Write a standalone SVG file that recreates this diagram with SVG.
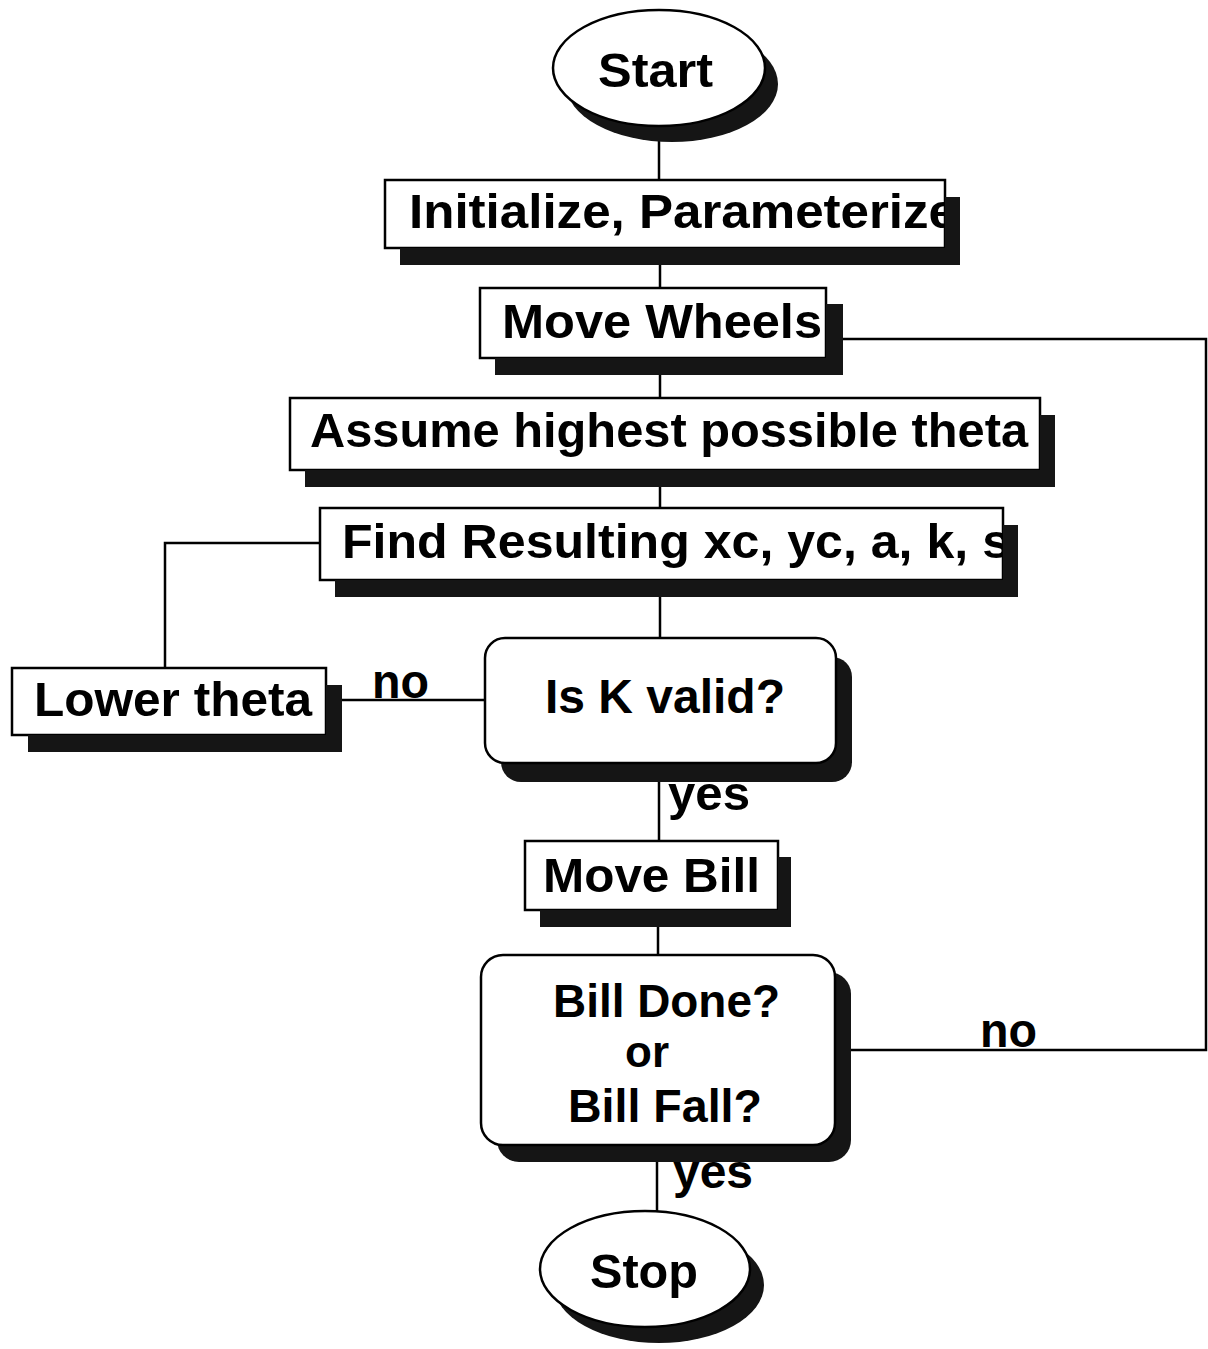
<svg xmlns="http://www.w3.org/2000/svg" width="1208" height="1349" viewBox="0 0 1208 1349">
<style>
.t{font-family:"Liberation Sans",Arial,Helvetica,sans-serif;font-weight:bold;font-size:48px;fill:#000}
.s{font-size:46px}
.box{fill:#fff;stroke:#000;stroke-width:2.5}
.sh{fill:#151515;stroke:none}
.c{fill:none;stroke:#000;stroke-width:2.5}
</style>
<rect width="1208" height="1349" fill="#fff"/>
<g id="connectors">
<path class="c" d="M659 126 V180"/>
<path class="c" d="M660 248 V288"/>
<path class="c" d="M660 358 V398"/>
<path class="c" d="M660 470 V508"/>
<path class="c" d="M660 580 V638"/>
<path class="c" d="M659 763 V841"/>
<path class="c" d="M658 910 V955"/>
<path class="c" d="M657 1145 V1212"/>
<path class="c" d="M320 543 H165 V668"/>
<path class="c" d="M326 700 H484"/>
<path class="c" d="M826 339 H1206 V1050 H835"/>
<text class="t" x="372" y="698" textLength="57" lengthAdjust="spacingAndGlyphs">no</text>
<text class="t" x="668" y="810" textLength="82" lengthAdjust="spacingAndGlyphs">yes</text>
<text class="t" x="980" y="1047" textLength="57" lengthAdjust="spacingAndGlyphs">no</text>
<text class="t" x="673" y="1188" textLength="80" lengthAdjust="spacingAndGlyphs">yes</text>
</g>
<g id="start">
<ellipse class="sh" cx="672" cy="84" rx="106" ry="58"/>
<ellipse class="box" cx="659" cy="68" rx="106" ry="58"/>
<text class="t" x="598" y="87" textLength="115" lengthAdjust="spacingAndGlyphs">Start</text>
</g>
<g id="init">
<rect class="box" x="385" y="180" width="560" height="68"/>
<text class="t" x="409" y="228" textLength="548" lengthAdjust="spacingAndGlyphs">Initialize,  Parameterize</text>
<polygon class="sh" points="945,197 960,197 960,265 400,265 400,248 945,248"/>
</g>
<g id="movewheels">
<rect class="box" x="480" y="288" width="346" height="70"/>
<text class="t" x="502" y="338" textLength="320" lengthAdjust="spacingAndGlyphs">Move  Wheels</text>
<polygon class="sh" points="826,304 843,304 843,375 495,375 495,358 826,358"/>
</g>
<g id="assume">
<rect class="box" x="290" y="398" width="750" height="72"/>
<text class="t" x="310" y="447" textLength="718" lengthAdjust="spacingAndGlyphs">Assume highest possible theta</text>
<polygon class="sh" points="1040,415 1055,415 1055,487 305,487 305,470 1040,470"/>
</g>
<g id="find">
<rect class="box" x="320" y="508" width="683" height="72"/>
<text class="t" x="342" y="558" textLength="668" lengthAdjust="spacingAndGlyphs">Find Resulting xc, yc, a, k, s</text>
<polygon class="sh" points="1003,525 1018,525 1018,597 335,597 335,580 1003,580"/>
</g>
<g id="lowertheta">
<rect class="box" x="12" y="668" width="314" height="67"/>
<text class="t" x="34" y="716" textLength="278" lengthAdjust="spacingAndGlyphs">Lower theta</text>
<polygon class="sh" points="326,685 342,685 342,752 28,752 28,735 326,735"/>
</g>
<g id="iskvalid">
<rect class="sh" x="501" y="657" width="351" height="125" rx="20"/>
<rect class="box" x="485" y="638" width="351" height="125" rx="20"/>
<text class="t" x="545" y="713" textLength="240" lengthAdjust="spacingAndGlyphs">Is K valid?</text>
</g>
<g id="movebill">
<rect class="box" x="525" y="841" width="253" height="69"/>
<text class="t" x="543" y="892" textLength="217" lengthAdjust="spacingAndGlyphs">Move Bill</text>
<polygon class="sh" points="778,857 791,857 791,927 540,927 540,910 778,910"/>
</g>
<g id="billdone">
<rect class="sh" x="497" y="972" width="354" height="190" rx="22"/>
<rect class="box" x="481" y="955" width="354" height="190" rx="22"/>
<text class="t s" x="553" y="1017" textLength="227" lengthAdjust="spacingAndGlyphs">Bill Done?</text>
<text class="t" x="625" y="1067" textLength="44" lengthAdjust="spacingAndGlyphs" style="font-size:44px">or</text>
<text class="t s" x="568" y="1122" textLength="194" lengthAdjust="spacingAndGlyphs">Bill Fall?</text>
</g>
<g id="stop">
<ellipse class="sh" cx="659" cy="1285" rx="105" ry="58"/>
<ellipse class="box" cx="645" cy="1269" rx="105" ry="58"/>
<text class="t" x="590" y="1288" textLength="108" lengthAdjust="spacingAndGlyphs">Stop</text>
</g>
</svg>
